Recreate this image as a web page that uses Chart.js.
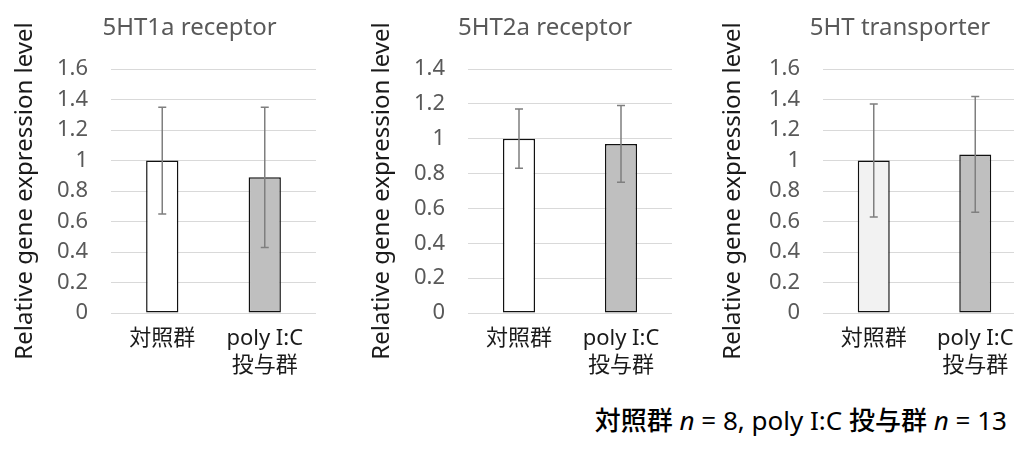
<!DOCTYPE html>
<html><head><meta charset="utf-8">
<script src="https://cdn.jsdelivr.net/npm/chart.js@4"></script>
<style>
html,body{margin:0;padding:0;width:1014px;height:460px;overflow:hidden;background:#fff;}
canvas{position:absolute;top:0;}
#note{position:absolute;right:7px;top:404px;font-family:'Noto Sans','Noto Sans CJK JP',sans-serif;font-size:26px;color:#000;white-space:nowrap;line-height:32px;}
#note b{font-weight:500;}
</style></head><body>
<canvas id="c1" width="379" height="380" style="left:0px"></canvas>
<canvas id="c2" width="410" height="380" style="left:340px"></canvas>
<canvas id="c3" width="440" height="380" style="left:680px"></canvas>
<div id="note"><b>対照群</b> <i>n</i> = 8, poly I:C <b>投与群</b> <i>n</i> = 13</div>
<script>
// ---- data ----
const categories = [['対照群'], ['poly I:C', '投与群']];
const titles = ['5HT1a receptor', '5HT2a receptor', '5HT transporter'];
const yAxisTitle = 'Relative gene expression level';
const means1 = [1.00, 0.89];
const errors1 = [0.35, 0.46];
const means2 = [1.00, 0.97];
const errors2 = [0.17, 0.22];
const means3 = [1.00, 1.04];
const errors3 = [0.37, 0.38];
const yTicks16 = ['0', '0.2', '0.4', '0.6', '0.8', '1', '1.2', '1.4', '1.6'];
const yTicks14 = ['0', '0.2', '0.4', '0.6', '0.8', '1', '1.2', '1.4'];
const yMax = [1.6, 1.4, 1.6];
const fills1 = ['#ffffff', '#bfbfbf'];
const fills3 = ['#f2f2f2', '#bfbfbf'];

const FONT = "'Noto Sans', 'Noto Sans CJK JP', sans-serif";

const errorBars = {
  id: 'errorBars',
  afterDatasetsDraw(chart, args, opts) {
    const ctx = chart.ctx;
    const ys = chart.scales.y;
    chart.data.datasets.forEach((ds, di) => {
      const meta = chart.getDatasetMeta(di);
      meta.data.forEach((bar, i) => {
        const m = ds.data[i], e = opts.errors[i];
        const yT = ys.getPixelForValue(m + e);
        const yB = ys.getPixelForValue(m - e);
        ctx.save();
        ctx.strokeStyle = opts.color;
        ctx.lineWidth = opts.width;
        ctx.beginPath();
        ctx.moveTo(bar.x, yT); ctx.lineTo(bar.x, yB);
        ctx.moveTo(bar.x - opts.cap, yT); ctx.lineTo(bar.x + opts.cap, yT);
        ctx.moveTo(bar.x - opts.cap, yB); ctx.lineTo(bar.x + opts.cap, yB);
        ctx.stroke();
        ctx.restore();
      });
    });
  }
};

function makeChart(id, title, means, errors, fills, ticks, max, yWidth, titlePad, rightWidth) {
  return new Chart(document.getElementById(id), {
    type: 'bar',
    data: {
      labels: categories,
      datasets: [{
        data: means,
        backgroundColor: fills,
        borderColor: '#111111',
        borderWidth: 1.5,
        borderSkipped: false,
        barPercentage: 0.315,
        categoryPercentage: 1.0
      }]
    },
    options: {
      responsive: false,
      animation: false,
      devicePixelRatio: 1,
      layout: { padding: 0 },
      plugins: {
        legend: { display: false },
        tooltip: { enabled: false },
        title: {
          display: true, text: title, color: '#595959',
          font: { family: FONT, size: 24, weight: 'normal' },
          padding: { top: 13.6, bottom: 26.6 }
        },
        errorBars: { errors: errors, color: '#7f7f7f', width: 1.5, cap: 4 }
      },
      scales: {
        x: {
          grid: { display: false },
          border: { display: false },
          ticks: { color: '#1a1a1a', font: { family: FONT, size: 22 }, padding: 5, maxRotation: 0, autoSkip: false },
          afterFit(s) { s.height = 67; }
        },
        y: {
          min: 0, max: max,
          grid: { color: '#d9d9d9', lineWidth: 1, drawTicks: false },
          border: { display: false },
          ticks: {
            stepSize: 0.2, padding: 23, color: '#595959',
            font: { family: FONT, size: 22 },
            callback: (v, i) => ticks[i]
          },
          title: {
            display: true, text: yAxisTitle, color: '#1a1a1a',
            font: { family: FONT, size: 24 },
            padding: { top: titlePad, bottom: 0 }
          },
          afterFit(s) { s.width = yWidth; }
        },
        yR: {
          position: 'right', display: true,
          grid: { display: false }, border: { display: false },
          ticks: { display: false },
          afterFit(s) { s.width = rightWidth; }
        }
      }
    },
    plugins: [errorBars]
  });
}

makeChart('c1', titles[0], means1, errors1, fills1, yTicks16, yMax[0], 111, 10.6, 63);
makeChart('c2', titles[1], means2, errors2, fills1, yTicks14, yMax[1], 128, 27.6, 78);
makeChart('c3', titles[2], means3, errors3, fills3, yTicks16, yMax[2], 143, 38.6, 94);
</script>
</body></html>
